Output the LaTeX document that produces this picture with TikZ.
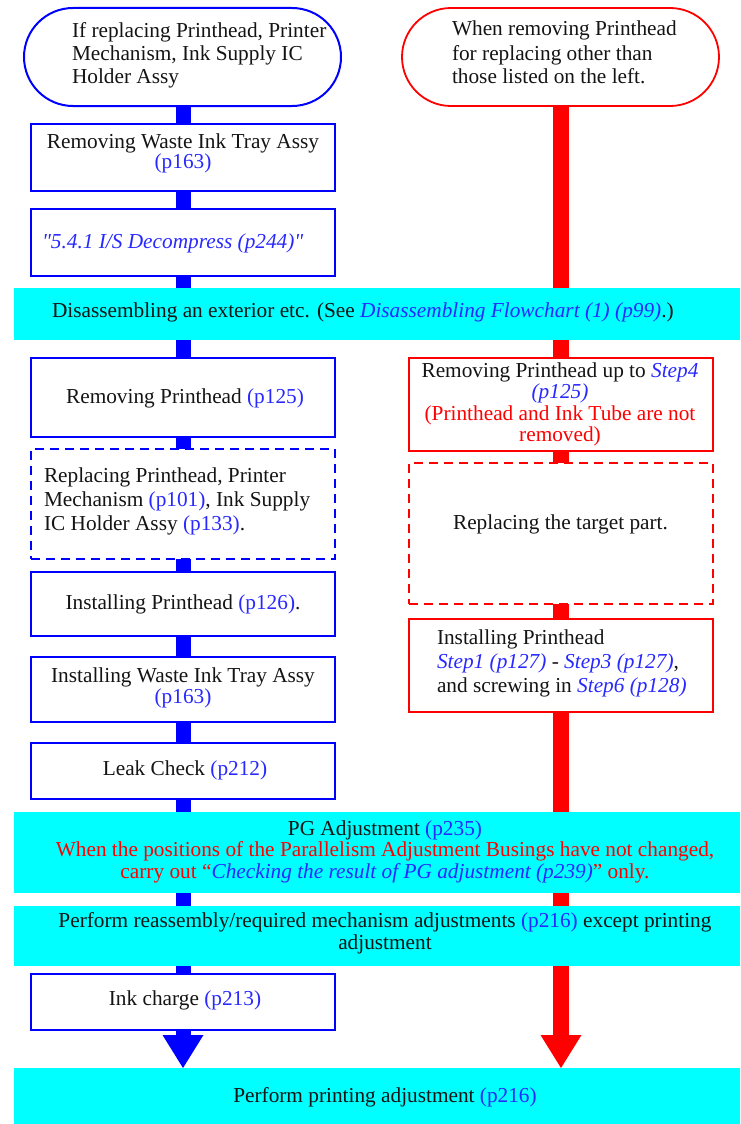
\documentclass[tikz,border=0pt]{standalone}
\usepackage{fontspec}
\setmainfont{Liberation Serif}[Ligatures=TeXOff]
\usetikzlibrary{arrows.meta}
\definecolor{lnkblue}{RGB}{40,40,255}
\definecolor{txtblack}{RGB}{20,20,20}
\definecolor{bandcyan}{RGB}{0,255,255}
\newcommand{\lnk}{\color{lnkblue}}
\newcommand{\fsz}[1]{\fontsize{21.3}{#1}\selectfont}
\begin{document}
\begin{tikzpicture}[x=1pt,y=-1pt,
  term/.style={line width=2pt,minimum width=317pt,minimum height=98pt,rounded corners=49pt,inner sep=0pt,outer sep=0pt},
  bluebox/.style={draw=blue,line width=2pt,minimum width=304pt,inner sep=0pt,outer sep=0pt},
  redbox/.style={draw=red,line width=2pt,minimum width=304pt,inner sep=0pt,outer sep=0pt},
  dashbox/.style={dash pattern=on 9pt off 6pt},
  band/.style={fill=bandcyan,minimum width=726pt,inner sep=0pt,outer sep=0pt},
  lbl/.style={inner sep=0pt,outer sep=0pt,text=txtblack,font=\fsz{22}},
  blueconn/.style={draw=blue,line width=15pt},
  redconn/.style={draw=red,line width=16pt},
  tip/.style={-{Triangle[length=33pt,width=41pt,line width=0pt]}}
]
\useasboundingbox (0,0) rectangle (740,1124);

% terminators
\node[term,draw=blue] (lt) at (182.5,57) {};
\node[term,draw=red,line width=1.8pt] (rt) at (560.5,57) {};

% left column
\node[bluebox,minimum height=67pt] (b1) at (183,157.5) {};
\node[bluebox,minimum height=67pt] (b2) at (183,242.5) {};
\node[band,minimum height=52pt] (band1) at (377,314) {};
\node[bluebox,minimum height=79pt] (b3) at (183,397.5) {};
\node[bluebox,dashbox,minimum height=110pt] (b4) at (183,504) {};
\node[bluebox,minimum height=64pt] (b5) at (183,604) {};
\node[bluebox,minimum height=65pt] (b6) at (183,689.5) {};
\node[bluebox,minimum height=56pt] (b7) at (183,771) {};
\node[band,minimum height=81pt] (band2) at (377,852.5) {};
\node[band,minimum height=60pt] (band3) at (377,936) {};
\node[bluebox,minimum height=56pt] (b8) at (183,1002) {};
\node[band,minimum height=56pt] (band4) at (377,1096) {};

% right column
\node[redbox,minimum height=93pt] (r1) at (561,404.5) {};
\node[redbox,dashbox,minimum height=141pt] (r2) at (561,533.5) {};
\node[redbox,minimum height=93pt] (r3) at (561,665.5) {};

% blue connectors
\draw[blueconn] (b1.north |- lt.south) -- (b1.north);
\draw[blueconn] (b1.south) -- (b2.north);
\draw[blueconn] (b2.south) -- (b2.south |- band1.north);
\draw[blueconn] (b3.north |- band1.south) -- (b3.north);
\draw[blueconn] (b3.south) -- (b4.north);
\draw[blueconn] (b4.south) -- (b5.north);
\draw[blueconn] (b5.south) -- (b6.north);
\draw[blueconn] (b6.south) -- (b7.north);
\draw[blueconn] (b7.south) -- (b7.south |- band2.north);
\draw[blueconn] (b7.south |- band2.south) -- (b7.south |- band3.north);
\draw[blueconn] (b8.north |- band3.south) -- (b8.north);
\draw[blueconn,tip] (b8.south) -- (b8.south |- band4.north);

% red connectors
\draw[redconn] (r1.north |- rt.south) -- (r1.north |- band1.north);
\draw[redconn] (r1.north |- band1.south) -- (r1.north);
\draw[redconn] (r1.south) -- (r2.north);
\draw[redconn] (r2.south) -- (r3.north);
\draw[redconn] (r3.south) -- (r3.south |- band2.north);
\draw[redconn] (r3.south |- band2.south) -- (r3.south |- band3.north);
\draw[redconn,tip] (r3.south |- band3.south) -- (r3.south |- band4.north);

% texts (base anchor = baseline of last line)
\node[lbl,font=\fsz{23.5},anchor=base west,align=left] (tlt) at (72,84)
  {If replacing Printhead, Printer\\Mechanism, Ink Supply IC\\Holder Assy};
\node[lbl,font=\fsz{24},anchor=base west,align=left] (trt) at (452,84)
  {When removing Printhead\\for replacing other than\\those listed on the left.};
\node[lbl,font=\fsz{20.5},anchor=base,align=center] (tb1) at (183,168.5)
  {Removing Waste Ink Tray Assy\\{\lnk (p163)}};
\node[lbl,anchor=base west] (tb2) at (42,248)
  {\lnk\itshape "5.4.1 I/S Decompress (p244)"};
\node[lbl,anchor=base west] (tband1) at (52,317)
  {Disassembling an exterior etc. (See {\lnk\itshape Disassembling Flowchart (1) (p99)}.)};
\node[lbl,anchor=base] (tb3) at (185,403) {Removing Printhead {\lnk(p125)}};
\node[lbl,font=\fsz{24},anchor=base west,align=left] (tb4) at (44,530)
  {Replacing Printhead, Printer\\Mechanism {\lnk(p101)}, Ink Supply\\IC Holder Assy {\lnk(p133)}.};
\node[lbl,anchor=base] (tb5) at (183,609) {Installing Printhead {\lnk(p126)}.};
\node[lbl,font=\fsz{21},anchor=base,align=center] (tb6) at (183,703)
  {Installing Waste Ink Tray Assy\\{\lnk(p163)}};
\node[lbl,anchor=base] (tb7) at (185,775) {Leak Check {\lnk(p212)}};
\node[lbl,font=\fsz{21.5},anchor=base,align=center] (tband2) at (385,878)
  {PG Adjustment {\lnk(p235)}\\
   {\color{red}When the positions of the Parallelism Adjustment Busings have not changed,}\\
   {\color{red}carry out “{\lnk\itshape Checking the result of PG adjustment (p239)}” only.}};
\node[lbl,font=\fsz{22},anchor=base,align=center] (tband3) at (385,949)
  {Perform reassembly/required mechanism adjustments {\lnk(p216)} except printing\\adjustment};
\node[lbl,anchor=base] (tb8) at (185,1005) {Ink charge {\lnk(p213)}};
\node[lbl,anchor=base] (tband4) at (385,1102) {Perform printing adjustment {\lnk(p216)}};
\node[lbl,font=\fsz{21.5},anchor=base,align=center] (tr1) at (560,441.5)
  {Removing Printhead up to {\lnk\itshape Step4}\\
   {\lnk\itshape (p125)}\\
   {\color{red}(Printhead and Ink Tube are not}\\
   {\color{red}removed)}};
\node[lbl,anchor=base] (tr2) at (560.5,529) {Replacing the target part.};
\node[lbl,font=\fsz{24},anchor=base west,align=left] (tr3) at (437,692)
  {Installing Printhead\\
   {\lnk\itshape Step1 (p127)} - {\lnk\itshape Step3 (p127)},\\
   and screwing in {\lnk\itshape Step6 (p128)}};
\end{tikzpicture}
\end{document}
